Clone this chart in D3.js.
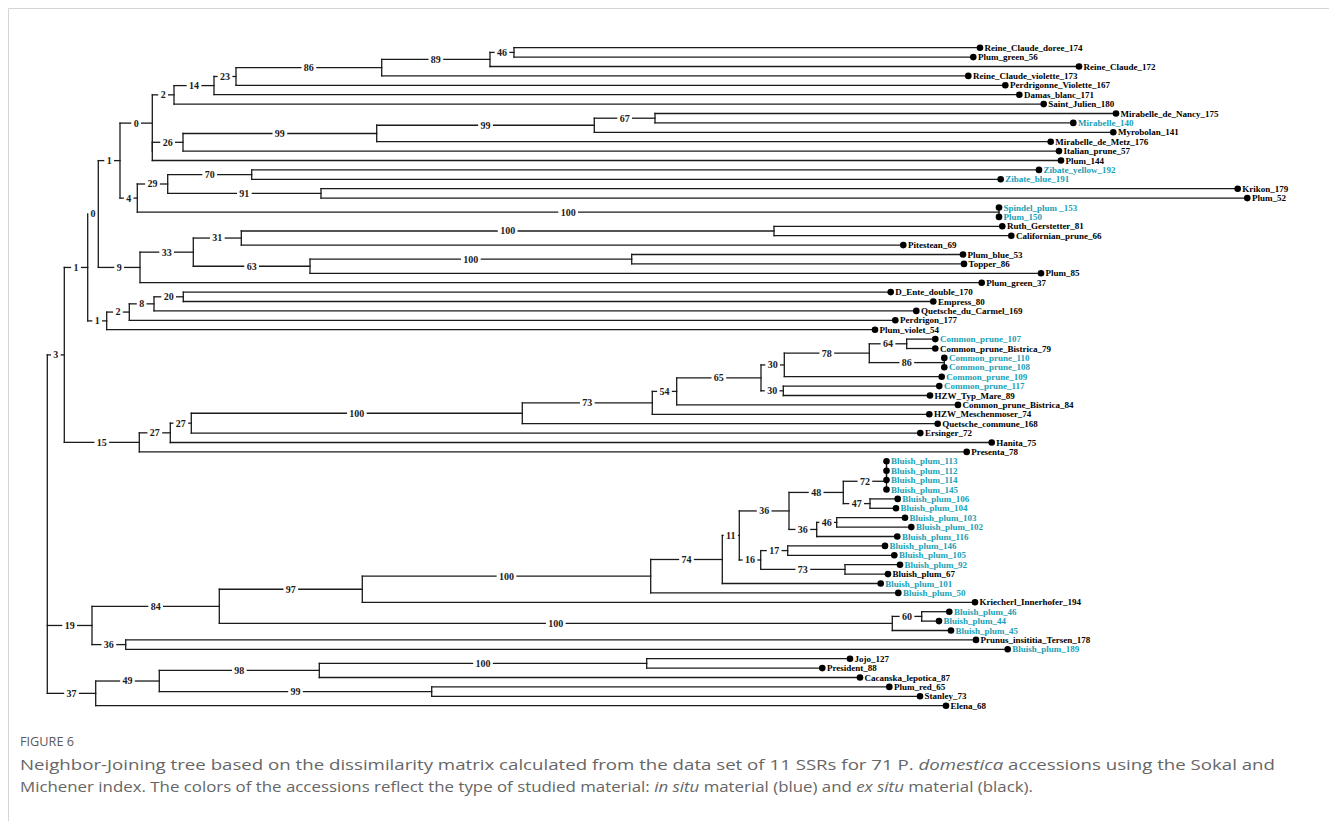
<!DOCTYPE html>
<html>
<head>
<meta charset="utf-8">
<script src="https://cdn.jsdelivr.net/npm/d3@7"></script>
<style>
  html, body { margin: 0; padding: 0; background: #fff; }
  svg { display: block; }
</style>
</head>
<body>
<svg id="chart" width="1329" height="821"></svg>
<script>
// Accessions, top to bottom as they sit in the tree
const accessions = [
  "Reine_Claude_doree_174", "Plum_green_56", "Reine_Claude_172", "Reine_Claude_violette_173",
  "Perdrigonne_Violette_167", "Damas_blanc_171", "Saint_Julien_180", "Mirabelle_de_Nancy_175",
  "Mirabelle_140", "Myrobolan_141", "Mirabelle_de_Metz_176", "Italian_prune_57", "Plum_144",
  "Zibate_yellow_192", "Zibate_blue_191", "Krikon_179", "Plum_52", "Spindel_plum _153", "Plum_150",
  "Ruth_Gerstetter_81", "Californian_prune_66", "Pitestean_69", "Plum_blue_53", "Topper_86",
  "Plum_85", "Plum_green_37", "D_Ente_double_170", "Empress_80", "Quetsche_du_Carmel_169",
  "Perdrigon_177", "Plum_violet_54", "Common_prune_107", "Common_prune_Bistrica_79",
  "Common_prune_110", "Common_prune_108", "Common_prune_109", "Common_prune_117",
  "HZW_Typ_Mare_89", "Common_prune_Bistrica_84", "HZW_Meschenmoser_74", "Quetsche_commune_168",
  "Ersinger_72", "Hanita_75", "Presenta_78", "Bluish_plum_113", "Bluish_plum_112",
  "Bluish_plum_114", "Bluish_plum_145", "Bluish_plum_106", "Bluish_plum_104", "Bluish_plum_103",
  "Bluish_plum_102", "Bluish_plum_116", "Bluish_plum_146", "Bluish_plum_105", "Bluish_plum_92",
  "Bluish_plum_67", "Bluish_plum_101", "Bluish_plum_50", "Kriecherl_Innerhofer_194",
  "Bluish_plum_46", "Bluish_plum_44", "Bluish_plum_45", "Prunus_insititia_Tersen_178",
  "Bluish_plum_189", "Jojo_127", "President_88", "Cacanska_lepotica_87", "Plum_red_65",
  "Stanley_73", "Elena_68"
];

// In situ material (blue); every other accession is ex situ material (black)
const inSitu = [
  "Mirabelle_140", "Zibate_yellow_192", "Zibate_blue_191", "Spindel_plum _153", "Plum_150",
  "Common_prune_107", "Common_prune_110", "Common_prune_108", "Common_prune_109", "Common_prune_117",
  "Bluish_plum_113", "Bluish_plum_112", "Bluish_plum_114", "Bluish_plum_145", "Bluish_plum_106",
  "Bluish_plum_104", "Bluish_plum_103", "Bluish_plum_102", "Bluish_plum_116", "Bluish_plum_146",
  "Bluish_plum_105", "Bluish_plum_92", "Bluish_plum_101", "Bluish_plum_50", "Bluish_plum_46",
  "Bluish_plum_44", "Bluish_plum_45", "Bluish_plum_189"
];

// Neighbor-Joining tree edges: [node, parent, branch length, bootstrap %]
const treeEdges = [
  ["root", "", 0, null],
  ["n1", "root", 0.0170, 3],
  ["n2", "n1", 0.0234, 1],
  ["n3", "n2", 0.0106, 0],
  ["n4", "n3", 0.0217, 1],
  ["n5", "n4", 0.0323, 0],
  ["n6", "n5", 0.0217, 2],
  ["n7", "n6", 0.0400, 14],
  ["n8", "n7", 0.0220, 23],
  ["n9", "n8", 0.1457, 86],
  ["n10", "n9", 0.1083, 89],
  ["n11", "n10", 0.0240, 46],
  ["Reine_Claude_doree_174", "n11", 0.4660, null],
  ["Plum_green_56", "n11", 0.4593, null],
  ["Reine_Claude_172", "n10", 0.5890, null],
  ["Reine_Claude_violette_173", "n9", 0.5866, null],
  ["Perdrigonne_Violette_167", "n8", 0.7693, null],
  ["Damas_blanc_171", "n7", 0.8053, null],
  ["Saint_Julien_180", "n6", 0.8697, null],
  ["n12", "n5", 0, null],
  ["n13", "n12", 0.0307, 26],
  ["n14", "n13", 0.1937, 99],
  ["n15", "n14", 0.2176, 99],
  ["n16", "n15", 0.0607, 67],
  ["Mirabelle_de_Nancy_175", "n16", 0.4610, null],
  ["Mirabelle_140", "n16", 0.4183, null],
  ["Myrobolan_141", "n15", 0.5190, null],
  ["Mirabelle_de_Metz_176", "n14", 0.6740, null],
  ["Italian_prune_57", "n13", 0.8760, null],
  ["Plum_144", "n12", 0.9087, null],
  ["n17", "n4", 0.0173, 4],
  ["n18", "n17", 0.0304, 29],
  ["n19", "n18", 0.0840, 70],
  ["Zibate_yellow_192", "n19", 0.7873, null],
  ["Zibate_blue_191", "n19", 0.7490, null],
  ["n20", "n18", 0.1533, 91],
  ["Krikon_179", "n20", 0.9167, null],
  ["Plum_52", "n20", 0.9263, null],
  ["n21", "n17", 0.8617, 100],
  ["Spindel_plum _153", "n21", 0, null],
  ["Plum_150", "n21", 0, null],
  ["n22", "n3", 0.0417, 9],
  ["n23", "n22", 0.0533, 33],
  ["n24", "n23", 0.0480, 31],
  ["n25", "n24", 0.5327, 100],
  ["Ruth_Gerstetter_81", "n25", 0.2283, null],
  ["Californian_prune_66", "n25", 0.2373, null],
  ["Pitestean_69", "n24", 0.6620, null],
  ["n26", "n23", 0.1167, 63],
  ["n27", "n26", 0.3217, 100],
  ["Plum_blue_53", "n27", 0.3313, null],
  ["Topper_86", "n27", 0.3323, null],
  ["Plum_85", "n26", 0.7310, null],
  ["Plum_green_37", "n22", 0.8417, null],
  ["n28", "n2", 0.0190, 1],
  ["n29", "n28", 0.0226, 2],
  ["n30", "n29", 0.0247, 8],
  ["n31", "n30", 0.0293, 20],
  ["D_Ente_double_170", "n31", 0.7074, null],
  ["Empress_80", "n31", 0.7500, null],
  ["Quetsche_du_Carmel_169", "n30", 0.7623, null],
  ["Perdrigon_177", "n29", 0.7660, null],
  ["Plum_violet_54", "n28", 0.7683, null],
  ["n32", "n1", 0.0750, 15],
  ["n33", "n32", 0.0310, 27],
  ["n34", "n33", 0.0210, 27],
  ["n35", "n34", 0.3310, 100],
  ["n36", "n35", 0.1300, 73],
  ["n37", "n36", 0.0244, 54],
  ["n38", "n37", 0.0843, 65],
  ["n39", "n38", 0.0233, 30],
  ["n40", "n39", 0.0850, 78],
  ["n41", "n40", 0.0374, 64],
  ["Common_prune_107", "n41", 0.0286, null],
  ["Common_prune_Bistrica_79", "n41", 0.0286, null],
  ["n42", "n40", 0.0750, 86],
  ["Common_prune_110", "n42", 0, null],
  ["Common_prune_108", "n42", 0, null],
  ["Common_prune_109", "n39", 0.1574, null],
  ["n43", "n38", 0.0223, 30],
  ["Common_prune_117", "n43", 0.1560, null],
  ["HZW_Typ_Mare_89", "n43", 0.1467, null],
  ["Common_prune_Bistrica_84", "n37", 0.2813, null],
  ["HZW_Meschenmoser_74", "n36", 0.2770, null],
  ["Quetsche_commune_168", "n35", 0.4154, null],
  ["Ersinger_72", "n34", 0.7290, null],
  ["Hanita_75", "n33", 0.8214, null],
  ["Presenta_78", "n32", 0.8274, null],
  ["n44", "root", 0.0447, 19],
  ["n45", "n44", 0.1273, 84],
  ["n46", "n45", 0.1430, 97],
  ["n47", "n46", 0.2884, 100],
  ["n48", "n47", 0.0716, 74],
  ["n49", "n48", 0.0170, 11],
  ["n50", "n49", 0.0497, 36],
  ["n51", "n50", 0.0543, 48],
  ["n52", "n51", 0.0432, 72],
  ["n53", "n52", 0, null],
  ["n54", "n53", 0, null],
  ["Bluish_plum_113", "n54", 0, null],
  ["Bluish_plum_112", "n54", 0, null],
  ["Bluish_plum_114", "n53", 0, null],
  ["Bluish_plum_145", "n52", 0, null],
  ["n55", "n51", 0.0267, 47],
  ["Bluish_plum_106", "n55", 0.0277, null],
  ["Bluish_plum_104", "n55", 0.0260, null],
  ["n56", "n50", 0.0277, 36],
  ["n57", "n56", 0.0200, 46],
  ["Bluish_plum_103", "n57", 0.0683, null],
  ["Bluish_plum_102", "n57", 0.0746, null],
  ["Bluish_plum_116", "n56", 0.0806, null],
  ["n58", "n49", 0.0214, 16],
  ["n59", "n58", 0.0270, 17],
  ["Bluish_plum_146", "n59", 0.0973, null],
  ["Bluish_plum_105", "n59", 0.1066, null],
  ["n60", "n58", 0.0843, 73],
  ["Bluish_plum_92", "n60", 0.0550, null],
  ["Bluish_plum_67", "n60", 0.0430, null],
  ["Bluish_plum_101", "n48", 0.1584, null],
  ["Bluish_plum_50", "n47", 0.2476, null],
  ["Kriecherl_Innerhofer_194", "n46", 0.6127, null],
  ["n61", "n45", 0.6730, 100],
  ["n62", "n61", 0.0294, 60],
  ["Bluish_plum_46", "n62", 0.0276, null],
  ["Bluish_plum_44", "n62", 0.0173, null],
  ["Bluish_plum_45", "n61", 0.0587, null],
  ["n63", "n44", 0.0337, 36],
  ["Prunus_insititia_Tersen_178", "n63", 0.8503, null],
  ["Bluish_plum_189", "n63", 0.8820, null],
  ["n64", "root", 0.0484, 37],
  ["n65", "n64", 0.0636, 49],
  ["n66", "n65", 0.1600, 98],
  ["n67", "n66", 0.3274, 100],
  ["Jojo_127", "n67", 0.2033, null],
  ["President_88", "n67", 0.1756, null],
  ["Cacanska_lepotica_87", "n66", 0.5407, null],
  ["n68", "n65", 0.2724, 99],
  ["Plum_red_65", "n68", 0.4576, null],
  ["Stanley_73", "n68", 0.4883, null],
  ["Elena_68", "n64", 0.8503, null]
];

const figureLabel = "FIGURE 6";
// Caption lines; italic runs are marked with a flag
const captionLine1 = [
  ["Neighbor-Joining tree based on the dissimilarity matrix calculated from the data set of 11 SSRs for 71 P. ", false],
  ["domestica", true],
  [" accessions using the Sokal and", false]
];
const captionLine2 = [
  ["Michener index. The colors of the accessions reflect the type of studied material: ", false],
  ["in situ", true],
  [" material (blue) and ", false],
  ["ex situ", true],
  [" material (black).", false]
];

// ---------- layout ----------
const svg = d3.select("#chart");
const W = 1329, H = 821;
const inkColor = "#1b1b1b";
const blue = "#1aa0b5";
const serif = "'Liberation Serif', 'Times New Roman', serif";

// thin frame at the top and left of the figure panel
svg.append("line").attr("x1", 8.5).attr("x2", W).attr("y1", 8.5).attr("y2", 8.5)
  .attr("stroke", "#d4d4d4").attr("stroke-width", 1);
svg.append("line").attr("x1", 8.5).attr("x2", 8.5).attr("y1", 8.5).attr("y2", H)
  .attr("stroke", "#d4d4d4").attr("stroke-width", 1);

const root = d3.stratify()
  .id(d => d[0])
  .parentId(d => d[1] || null)(treeEdges);

root.eachBefore(n => { n.dist = n.parent ? n.parent.dist + n.data[2] : 0; });
root.eachAfter(n => {
  n.order = n.children ? d3.min(n.children, c => c.order) : accessions.indexOf(n.id);
});
root.sort((a, b) => a.order - b.order);

const maxDist = d3.max(root.leaves(), l => l.dist);
const x = d3.scaleLinear().domain([0, maxDist]).range([47.3, 1247.3]);
const y = d3.scalePoint().domain(accessions).range([47.7, 705.7]);

root.eachAfter(n => {
  n.px = x(n.dist);
  n.py = n.children
    ? (n.children[0].py + n.children[n.children.length - 1].py) / 2
    : y(n.id);
});

const gTree = svg.append("g")
  .attr("fill", "none")
  .attr("stroke", inkColor)
  .attr("stroke-width", 1.3)
  .attr("stroke-linecap", "square");
const gLabels = svg.append("g");

// vertical connectors at every internal node
root.descendants().filter(n => n.children).forEach(n => {
  gTree.append("line")
    .attr("x1", n.px).attr("x2", n.px)
    .attr("y1", n.children[0].py)
    .attr("y2", n.children[n.children.length - 1].py);
});

// horizontal branches, broken around their bootstrap label
root.descendants().filter(n => n.parent).forEach(n => {
  const x0 = n.parent.px, x1 = n.px, yy = n.py;
  const support = n.data[3];
  if (support === null || support === undefined) {
    if (x1 > x0) gTree.append("line").attr("x1", x0).attr("x2", x1).attr("y1", yy).attr("y2", yy);
    return;
  }
  const cx = (x0 + x1) / 2;
  const t = gLabels.append("text")
    .attr("x", cx).attr("y", yy).attr("dy", "0.34em")
    .attr("text-anchor", "middle")
    .attr("font-family", serif).attr("font-weight", "bold").attr("font-size", 10)
    .attr("fill", inkColor)
    .text(support);
  const w = t.node().getComputedTextLength();
  const gap = 3;
  const left = cx - w / 2 - gap, right = cx + w / 2 + gap;
  if (left > x0) gTree.append("line").attr("x1", x0).attr("x2", left).attr("y1", yy).attr("y2", yy);
  if (x1 > right) gTree.append("line").attr("x1", right).attr("x2", x1).attr("y1", yy).attr("y2", yy);
});

// leaf tips and accession names
const leaves = root.leaves();
const gLeaves = svg.append("g");
gLeaves.selectAll("circle").data(leaves).join("circle")
  .attr("cx", d => d.px).attr("cy", d => d.py).attr("r", 3.3)
  .attr("fill", "#000");
gLeaves.selectAll("text").data(leaves).join("text")
  .attr("x", d => d.px + 4.6).attr("y", d => d.py).attr("dy", "0.34em")
  .attr("font-family", serif).attr("font-weight", "bold").attr("font-size", 9)
  .attr("fill", d => inSitu.includes(d.id) ? blue : "#000")
  .style("white-space", "pre")
  .text(d => d.id);

// ---------- caption ----------
const sans = "'Open Sans', 'Noto Sans', sans-serif";
svg.append("text")
  .attr("x", 20).attr("y", 746)
  .attr("font-family", sans).attr("font-size", 12).attr("fill", "#5a5a5a")
  .attr("textLength", 54).attr("lengthAdjust", "spacingAndGlyphs")
  .text(figureLabel);

function captionLine(parts, yBase, width) {
  const t = svg.append("text")
    .attr("x", 20).attr("y", yBase)
    .attr("font-family", sans).attr("font-size", 15).attr("fill", "#666")
    .attr("textLength", width).attr("lengthAdjust", "spacingAndGlyphs")
    .style("white-space", "pre");
  parts.forEach(([s, it]) => {
    t.append("tspan").attr("font-style", it ? "italic" : "normal").text(s);
  });
}
captionLine(captionLine1, 770, 1255);
captionLine(captionLine2, 792, 1013);
</script>
</body>
</html>
